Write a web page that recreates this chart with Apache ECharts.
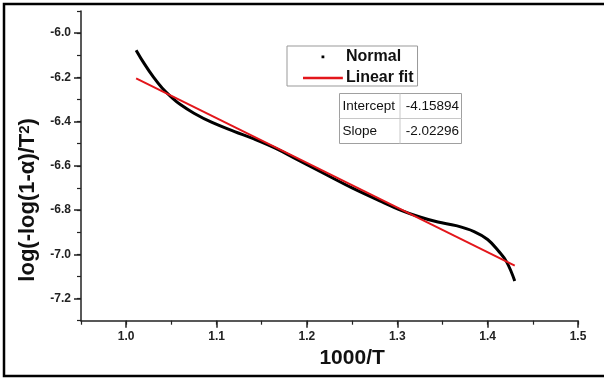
<!DOCTYPE html>
<html><head><meta charset="utf-8">
<script src="https://cdn.jsdelivr.net/npm/echarts@6/dist/echarts.min.js"></script>
<style>html,body{margin:0;padding:0;background:#fff}#c{width:604px;height:379px}</style>
</head><body><div id="c"></div>
<script>
// Series "Normal" (black curve)
const normalX = [1.011, 1.020, 1.030, 1.040, 1.050, 1.060, 1.075, 1.095, 1.120, 1.140, 1.165, 1.190, 1.220, 1.250, 1.280, 1.305, 1.325, 1.345, 1.365, 1.385, 1.400, 1.412, 1.421, 1.430];
const normalY = [-6.077, -6.138, -6.198, -6.249, -6.289, -6.323, -6.362, -6.404, -6.445, -6.476, -6.520, -6.573, -6.637, -6.700, -6.757, -6.802, -6.831, -6.854, -6.870, -6.897, -6.933, -6.985, -7.034, -7.120];
// Series "Linear fit" (red line) end points
const fitX = [1.011, 1.430];
const fitY = [-6.205, -7.051];
const seriesNames = ['Normal', 'Linear fit'];
// Fit statistics table
const statNames = ['Intercept', 'Slope'];
const statValues = ['-4.15894', '-2.02296'];
// Axis titles
const xTitle = '1000/T';
const yTitle = '{a|log(-log(1-α)/T}{s|2}{a|)}';

const FONT = '"Liberation Sans", Arial, sans-serif';
const axisColor = '#222';

const chart = echarts.init(document.getElementById('c'), null, {renderer: 'canvas'});

const tableChildren = [
  {type: 'rect', shape: {x: 0, y: 0, width: 122, height: 50}, style: {fill: '#fff', stroke: '#a0a0a0', lineWidth: 1}},
  {type: 'line', shape: {x1: 0, y1: 25, x2: 122, y2: 25}, style: {stroke: '#c8c8c8', lineWidth: 1}},
  {type: 'line', shape: {x1: 60.5, y1: 0, x2: 60.5, y2: 50}, style: {stroke: '#c8c8c8', lineWidth: 1}}
];
statNames.forEach((n, i) => {
  tableChildren.push({type: 'text', style: {text: n, x: 3, y: 12.5 + 25 * i, font: '13.5px ' + FONT, fill: '#111', textAlign: 'left', textVerticalAlign: 'middle', align: 'left', verticalAlign: 'middle'}});
  tableChildren.push({type: 'text', style: {text: statValues[i], x: 119.5, y: 12.5 + 25 * i, font: '13.5px ' + FONT, fill: '#111', textAlign: 'right', textVerticalAlign: 'middle', align: 'right', verticalAlign: 'middle'}});
});

const option = {
  animation: false,
  backgroundColor: '#fff',
  textStyle: {fontFamily: FONT},
  grid: [
    {left: 81, right: 26, top: 11, bottom: 58.3},
    {left: 126.2, right: 26, top: 33.1, bottom: 80.4}
  ],
  xAxis: [
    {gridIndex: 0, type: 'value', min: 0.95, max: 1.5, interval: 0.05,
      axisLine: {lineStyle: {color: axisColor, width: 1.5}},
      axisTick: {length: 4, lineStyle: {color: axisColor, width: 1.2}},
      axisLabel: {show: false}, splitLine: {show: false}},
    {gridIndex: 1, type: 'value', min: 1.0, max: 1.5, interval: 0.1, offset: 22.1,
      axisLine: {show: false},
      axisTick: {length: 7, lineStyle: {color: axisColor, width: 1.5}},
      axisLabel: {margin: 10, fontSize: 12, fontWeight: 'bold', color: '#222', fontFamily: FONT, formatter: v => v.toFixed(1)},
      splitLine: {show: false},
      name: xTitle, nameLocation: 'middle', nameGap: 23,
      nameTextStyle: {fontSize: 21, fontWeight: 'bold', color: '#111', fontFamily: FONT}}
  ],
  yAxis: [
    {gridIndex: 0, type: 'value', min: -7.3, max: -5.9, interval: 0.1,
      axisLine: {lineStyle: {color: axisColor, width: 1.5}},
      axisTick: {length: 4, lineStyle: {color: axisColor, width: 1.2}},
      axisLabel: {show: false}, splitLine: {show: false}},
    {gridIndex: 1, type: 'value', min: -7.2, max: -6.0, interval: 0.2, offset: 45.2,
      axisLine: {show: false},
      axisTick: {length: 7, lineStyle: {color: axisColor, width: 1.5}},
      axisLabel: {margin: 10, fontSize: 12, fontWeight: 'bold', color: '#222', fontFamily: FONT, formatter: v => v.toFixed(1)},
      splitLine: {show: false},
      name: yTitle, nameLocation: 'middle', nameGap: 38,
      nameTextStyle: {padding: [0, 68, 0, 0], rich: {
        a: {fontSize: 22, fontWeight: 'bold', color: '#111', fontFamily: FONT},
        s: {fontSize: 15, fontWeight: 'bold', color: '#111', fontFamily: FONT, verticalAlign: 'top'}
      }}}
  ],
  legend: {
    orient: 'vertical', left: 287, top: 46,
    padding: [3, 4, 0, 16], itemGap: 5, itemWidth: 40, itemHeight: 14,
    borderColor: '#999', borderWidth: 1, backgroundColor: '#fff',
    textStyle: {fontSize: 16, lineHeight: 16, fontWeight: 'bold', color: '#111', fontFamily: FONT, padding: [0, 0, 0, -2]},
    data: [
      {name: seriesNames[0], icon: 'path://M0,0h0.05v0.05h-0.05z M40,14h0.05v0.05h-0.05z M18.6,5.6h2.8v2.8h-2.8z', itemStyle: {borderWidth: 0}},
      {name: seriesNames[1], icon: 'path://M0,0h0.05v0.05h-0.05z M40,14h0.05v0.05h-0.05z M0,5.7h40v2.6h-40z', itemStyle: {borderWidth: 0}}
    ]
  },
  graphic: [
    {type: 'group', left: 337, top: 91, children: tableChildren},
    {type: 'rect', shape: {x: 4, y: 4, width: 640, height: 372}, style: {fill: 'none', stroke: '#000', lineWidth: 2.5}, z: 100}
  ],
  series: [
    {name: seriesNames[0], type: 'line', xAxisIndex: 0, yAxisIndex: 0, smooth: 0.4, symbol: 'none',
      data: normalX.map((x, i) => [x, normalY[i]]),
      lineStyle: {color: '#000', width: 3}, itemStyle: {color: '#000'}, z: 2},
    {name: seriesNames[1], type: 'line', xAxisIndex: 0, yAxisIndex: 0, symbol: 'none',
      data: fitX.map((x, i) => [x, fitY[i]]),
      lineStyle: {color: '#e3161b', width: 2}, itemStyle: {color: '#e3161b'}, z: 3}
  ]
};
chart.setOption(option);
</script></body></html>
